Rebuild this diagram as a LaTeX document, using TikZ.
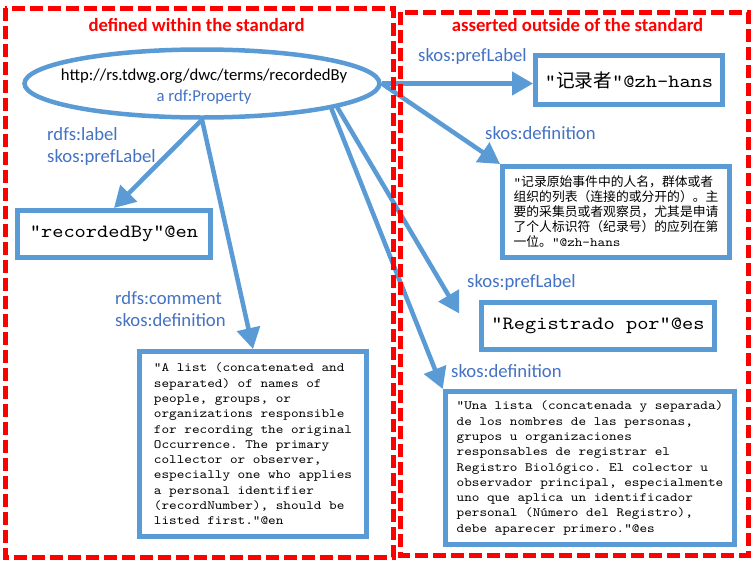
\documentclass[tikz,border=0pt]{standalone}
\usepackage{fontspec}
\setmainfont{Carlito}
\setmonofont{lmmono10-regular.otf}[FakeStretch=1.143]
\newfontfamily\cjk{Noto Sans CJK SC}
\usetikzlibrary{arrows.meta,shapes.geometric}
\definecolor{boxblue}{HTML}{5B9BD5}
\definecolor{lblblue}{HTML}{4472C4}
\definecolor{redd}{HTML}{FF0000}
\begin{document}
\begin{tikzpicture}[x=1pt,y=-1pt,
  region/.style={draw=redd,line width=5pt,dash pattern=on 13pt off 5pt},
  title/.style={text=redd,font=\fontsize{18.7}{22}\selectfont\bfseries,inner sep=0pt},
  lbl/.style={text=lblblue,font=\fontsize{18.7}{22.8}\selectfont,align=left,anchor=west,inner sep=0pt},
  lit/.style={draw=boxblue,line width=5pt,font=\ttfamily\fontsize{18.7}{22}\selectfont,inner sep=0pt},
  deftext/.style={draw=boxblue,line width=5pt,font=\ttfamily\fontsize{12.7}{15.3}\selectfont,align=left,inner sep=0pt},
  rel/.style={draw=boxblue,line width=4.5pt,-{Triangle[length=21pt,width=23pt]}},
]
\fill[white] (0,0) rectangle (754,563);
\useasboundingbox (0,0) rectangle (754,563);

% property ellipse
\node[ellipse,draw=boxblue,line width=4.5pt,minimum width=355pt,minimum height=68pt,inner sep=0pt] (prop) at (202,83.5) {};
\node[align=center,font=\fontsize{16.7}{21}\selectfont,inner sep=0pt] (proptext) at (204,86.5) {http://rs.tdwg.org/dwc/terms/recordedBy\\{\color{lblblue}a rdf:Property}};

% literal boxes
\node[lit,minimum width=193pt,minimum height=47pt] (en) at (114,234) {"recordedBy"@en};
\node[lit,minimum width=187pt,minimum height=48.5pt] (zh) at (629,80) {"{\cjk 记录者}"@zh-hans};
\node[lit,minimum width=232.5pt,minimum height=47pt] (es) at (598,325.5) {"Registrado por"@es};

\node[deftext,minimum width=226.5pt,minimum height=185pt] (endef) at (253,444) {"A list (concatenated and\\separated) of names of\\people, groups, or\\organizations responsible\\for recording the original\\Occurrence. The primary\\collector or observer,\\especially one who applies\\a personal identifier\\(recordNumber), should be\\listed first."@en};

\node[deftext,minimum width=289.5pt,minimum height=153pt] (esdef) at (590,468) {"Una lista (concatenada y separada)\\de los nombres de las personas,\\grupos u organizaciones\\responsables de registrar el\\Registro Biológico. El colector u\\observador principal, especialmente\\uno que aplica un identificador\\personal (Número del Registro),\\debe aparecer primero."@es};

\node[draw=boxblue,line width=5pt,font=\cjk\fontsize{12.8}{15}\selectfont,align=left,inner sep=0pt,minimum width=227pt,minimum height=91pt] (zhdef) at (616,212) {{\ttfamily\fontsize{12.7}{15}\selectfont"}记录原始事件中的人名，群体或者\\组织的列表（连接的或分开的）。主\\要的采集员或者观察员，尤其是申请\\了个人标识符（纪录号）的应列在第\\一位。{\ttfamily\fontsize{12.7}{15}\selectfont"@zh-hans}};

% connectors
\draw[rel] (prop.south) -- (en.north);
\draw[rel] (prop.south) -- (endef.north);
\draw[rel] (prop.east) -- (prop.east -| zh.west);
\draw[rel] (prop.east) -- (zhdef.north west);
\draw[rel] (prop.-10) -- ([xshift=-20pt,yshift=12pt]es.west);
\draw[rel] (prop.-11.5) -- (esdef.north west);

% connector labels
\node[lbl] (l1) at (47,146.5) {rdfs:label\\skos:prefLabel};
\node[lbl] (l2) at (115,309) {rdfs:comment\\skos:definition};
\node[lbl] (l3) at (418,57) {skos:prefLabel};
\node[lbl] (l4) at (485,133) {skos:definition};
\node[lbl] (l5) at (467,283) {skos:prefLabel};
\node[lbl] (l6) at (451,371) {skos:definition};

% regions
\draw[region] (5,8) rectangle (393,557);
\draw[region] (400,12) rectangle (748,555);
\node[title] (t1) at (196.5,25) {defined within the standard};
\node[title] (t2) at (577.5,25) {asserted outside of the standard};
\end{tikzpicture}
\end{document}
